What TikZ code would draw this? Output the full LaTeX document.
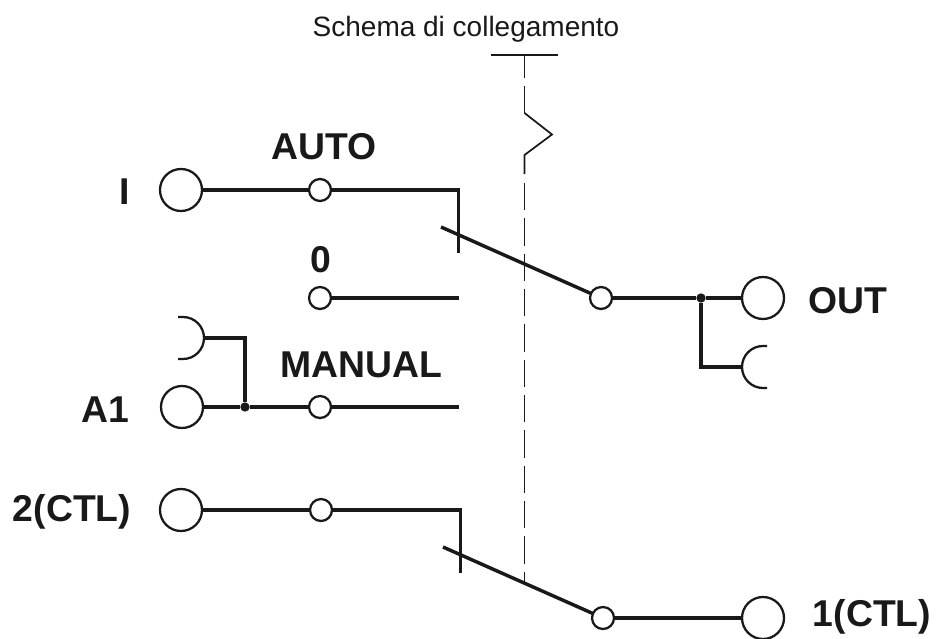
\documentclass[tikz,border=0pt]{standalone}
\usepackage{fontspec}
\setmainfont{Liberation Sans}
\usetikzlibrary{positioning}

\begin{document}
\begin{tikzpicture}[x=0.75pt,y=-0.75pt]
\tikzstyle{every node}+=[inner sep=0pt,outer sep=0pt]
\tikzstyle{wire}=[line width=2.6pt,black!90]
\tikzstyle{thin wire}=[line width=1.3pt,black!90]
\tikzstyle{cup}=[draw=black!90,line width=1.7pt]
\tikzstyle{big pin}=[draw=black!90,circle,line width=1.7pt,minimum size=31.5pt]
\tikzstyle{small pin}=[draw=black!90,circle,line width=1.7pt,minimum size=16.5pt]
\tikzstyle{dot}=[fill=black!90,circle,minimum size=7pt]
\tikzstyle{lbl}=[font=\fontsize{28}{28}\selectfont\bfseries,black!90]
\useasboundingbox (0,0) rectangle (937,638);
\draw (466,29) node (title) [font=\fontsize{21}{21}\selectfont,black!90] {Schema di collegamento};
% pins
\draw (181,190) node (pinI) [big pin] {};
\draw (182,407) node (pinA) [big pin] {};
\draw (181,510) node (pinC) [big pin] {};
\draw (763,298) node (pinOut) [big pin] {};
\draw (763,618) node (pinD) [big pin] {};
\draw (320,190) node (auto) [small pin] {};
\draw (320,298) node (zero) [small pin] {};
\draw (320,407) node (man) [small pin] {};
\draw (321,510) node (ctl) [small pin] {};
\draw (601,298) node (com) [small pin] {};
\draw (603,618) node (comD) [small pin] {};
\draw (245,407) node (jA) [dot] {};
\draw (701,298) node (jOut) [dot] {};
% labels
\draw (125,192) node (lI) [lbl] {I};
\draw (324,147) node (lAuto) [lbl] {AUTO};
\draw (321,260) node (lZero) [lbl] {0};
\draw (361,365) node (lMan) [lbl] {MANUAL};
\draw (105,410) node (lA) [lbl] {A1};
\draw (72,512) node (lC) [lbl] {2(CTL)};
\draw (848,301) node (lOut) [lbl] {OUT};
\draw (872,617) node (lD) [lbl] {1(CTL)};
% free ends
\coordinate (cA) at (458.5,190);
\coordinate (eA) at (458.5,253);
\coordinate (bA) at (441,227);
\coordinate (eZ) at (459,298);
\coordinate (eM) at (459,407);
\coordinate (cC) at (460.5,510);
\coordinate (eC) at (460.5,573);
\coordinate (bC) at (443,547);
\coordinate (capA) at (204,338);
\coordinate (cJ) at (245,338);
\coordinate (capB) at (742,367);
\coordinate (cK) at (701,367);
% rod
\coordinate (rodT) at (524.5,55);
\coordinate (barL) at (491,55);
\coordinate (barR) at (558,55);
\coordinate (zigA) at (524.5,113);
\coordinate (zigB) at (552,134.5);
\coordinate (zigC) at (524.5,155);
\coordinate (zigD) at (524.5,174);
\coordinate (rodM) at (524.5,183);
\coordinate (rodE) at (524.5,585);
\draw [thin wire] (barL) -- (barR);
\draw [thin wire,dash pattern=on 17.25pt off 6pt on 20.25pt off 6pt] (rodT) -- (zigA);
\draw [thin wire] (zigA) -- (zigB) -- (zigC) -- (zigD);
\draw [thin wire,dash pattern=on 20.6pt off 5.9pt] (rodM) -- (rodE);
% wires
\draw [wire] (pinI) -- (auto);
\draw [wire] (auto) -- (cA) -- (eA);
\draw [wire] (bA) -- (com);
\draw [wire] (zero) -- (eZ);
\draw [wire] (pinA) -- (jA);
\draw [wire] (jA) -- (man);
\draw [wire] (man) -- (eM);
\draw [wire] (capA) -- (cJ) -- (jA);
\draw [wire] (pinC) -- (ctl);
\draw [wire] (ctl) -- (cC) -- (eC);
\draw [wire] (bC) -- (comD);
\draw [wire] (comD) -- (pinD);
\draw [wire] (com) -- (jOut);
\draw [wire] (jOut) -- (pinOut);
\draw [wire] (jOut) -- (cK) -- (capB);
% cups
\draw [cup] (178,317) -- (183,317) arc (90:-90:15.75pt) -- (178,359);
\draw [cup] (767,346) -- (763,346) arc (90:270:15.75pt) -- (767,388);
\end{tikzpicture}
\end{document}
